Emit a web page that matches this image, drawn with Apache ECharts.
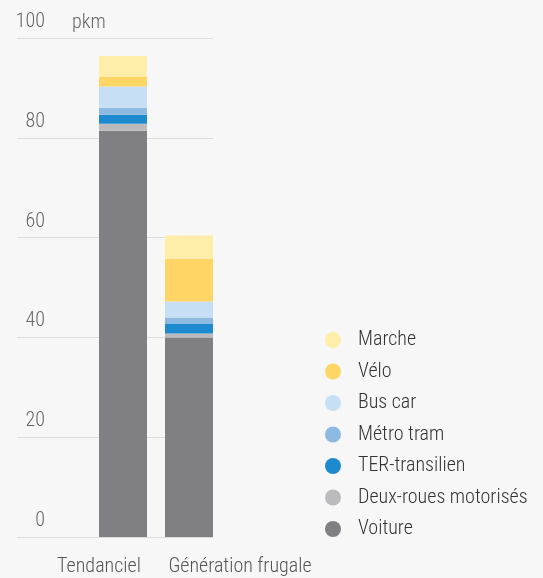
<!DOCTYPE html>
<html><head><meta charset="utf-8">
<script src="https://cdn.jsdelivr.net/npm/echarts@6/dist/echarts.min.js"></script>
<style>html,body{margin:0;padding:0;background:#f7f7f7}#c{width:543px;height:578px}</style>
</head><body><div id="c"></div>
<script>
const categories = ['Tendanciel', 'Génération frugale'];
const seriesNames = ['Voiture', 'Deux-roues motorisés', 'TER-transilien', 'Métro tram', 'Bus car', 'Vélo', 'Marche'];
const voiture = [81.4, 40.0];
const deuxRoues = [1.4, 0.8];
const ter = [1.8, 2.0];
const metro = [1.4, 1.2];
const bus = [4.3, 3.2];
const velo = [1.9, 8.6];
const marche = [4.2, 4.6];
const yTicks = [0, 20, 40, 60, 80, 100];
const unitLabel = 'pkm';

const values = [voiture, deuxRoues, ter, metro, bus, velo, marche];
const colors = ['#808084', '#bbbbbe', '#1d8acf', '#8db9e3', '#c6dff4', '#ffd566', '#ffedaa'];
const FONT = "'Roboto Condensed', 'Roboto', sans-serif";
const FW = 300;

const chart = echarts.init(document.getElementById('c'));
chart.setOption({
  backgroundColor: '#f7f7f7',
  animation: false,
  title: { text: unitLabel, left: 67, top: 8, textStyle: { fontFamily: FONT, fontSize: 20, fontWeight: FW, color: '#666' } },
  legend: {
    orient: 'vertical', left: 320, top: 325,
    data: seriesNames.slice().reverse(),
    icon: 'circle', itemWidth: 16, itemHeight: 16, itemGap: 11.5,
    textStyle: { fontFamily: FONT, fontSize: 20, fontWeight: FW, lineHeight: 20, color: '#333', padding: [0, 0, 0, 12] }
  },
  grid: [
    { left: 90, width: 132, top: 38, height: 499 },
    { left: 17, width: 196, top: 38, height: 499 }
  ],
  xAxis: [
    { type: 'category', gridIndex: 0, data: categories,
      axisLine: { show: false }, axisTick: { show: false },
      axisLabel: { margin: 20, interval: 0, hideOverlap: false,
        formatter: (v, i) => i === 0 ? '{a|' + v + '}' : '{b|' + v + '}',
        rich: {
          a: { fontFamily: FONT, fontSize: 20, fontWeight: FW, color: '#555', padding: [0, 48, 0, 0] },
          b: { fontFamily: FONT, fontSize: 20, fontWeight: FW, color: '#555', padding: [0, 0, 0, 102] }
        } } },
    { type: 'category', gridIndex: 1, data: [''], show: false }
  ],
  yAxis: [
    { type: 'value', gridIndex: 0, min: 0, max: 100, show: false },
    { type: 'value', gridIndex: 1, min: 0, max: 100, interval: 20,
      axisLine: { show: false }, axisTick: { show: false },
      splitLine: { lineStyle: { color: '#dcdcdc', width: 1 } },
      axisLabel: { margin: -28, align: 'right', verticalAlign: 'bottom',
        fontFamily: FONT, fontSize: 20, fontWeight: FW, lineHeight: 20, color: '#666', padding: [0, 0, 6, 0],
        formatter: v => yTicks.includes(v) ? String(v) : '' } }
  ],
  series: seriesNames.map((n, i) => ({
    name: n, type: 'bar', stack: 'total', xAxisIndex: 0, yAxisIndex: 0,
    barWidth: 48, data: values[i], itemStyle: { color: colors[i] }
  }))
});
</script></body></html>
